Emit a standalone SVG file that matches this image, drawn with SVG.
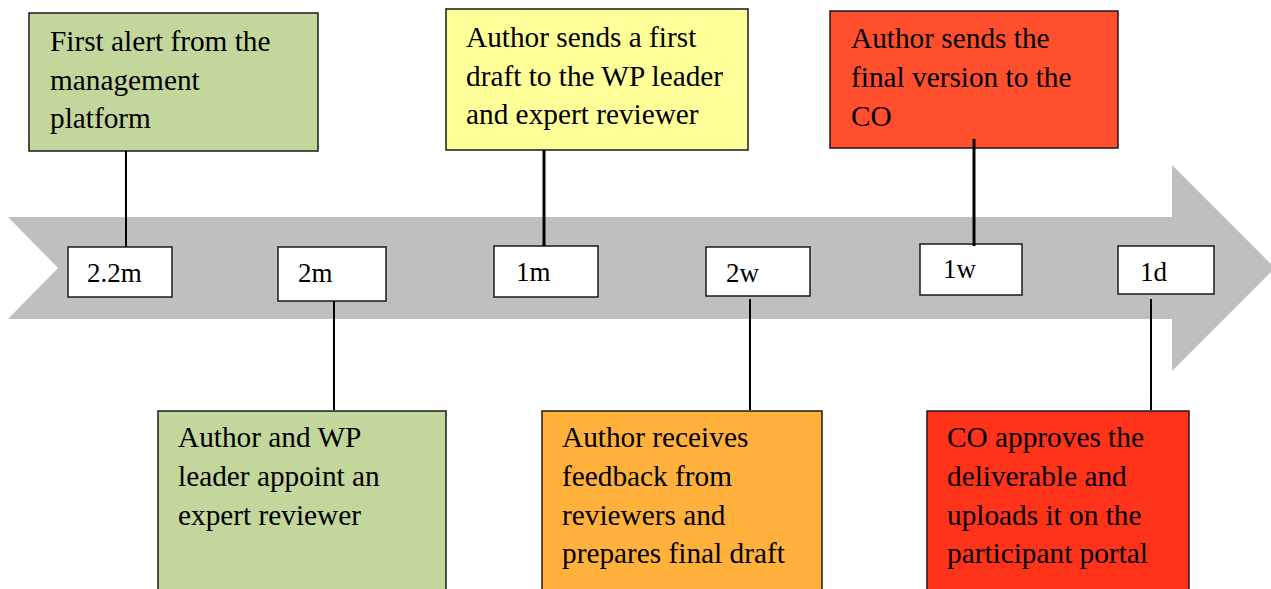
<svg xmlns="http://www.w3.org/2000/svg" width="1271" height="589" viewBox="0 0 1271 589">
<style>
.box{stroke:#1a1a1a;stroke-width:1.5}
.lbl{fill:#fff;stroke:#1a1a1a;stroke-width:1.5}
.t{font-family:"Liberation Serif","Times New Roman",serif;font-size:29.3px;fill:#000}
.s{font-family:"Liberation Serif","Times New Roman",serif;font-size:27px;fill:#000}
.thin{stroke:#000;stroke-width:2}
.thick{stroke:#000;stroke-width:3}
</style>
<rect width="1271" height="589" fill="#fff"/>
<g id="timeline-arrow">
<polygon points="8,217 1172,217 1172,165 1275,268 1172,371 1172,319 8,319 58,268" fill="#bfbfbf"/>
</g>
<g id="node-first-alert">
<rect class="box" x="29" y="13" width="289" height="138" fill="#c3d69b"/>
<text class="t" x="50" y="51">First alert from the</text>
<text class="t" x="50" y="89.5">management</text>
<text class="t" x="50" y="128">platform</text>
</g>
<g id="node-first-draft">
<rect class="box" x="446" y="9" width="302" height="141" fill="#ffff99"/>
<text class="t" x="466" y="47">Author sends a first</text>
<text class="t" x="466" y="85.5">draft to the WP leader</text>
<text class="t" x="466" y="124">and expert reviewer</text>
</g>
<g id="node-final-version">
<rect class="box" x="830" y="11" width="288" height="137" fill="#ff4f2d"/>
<text class="t" x="851" y="48">Author sends the</text>
<text class="t" x="851" y="87">final version to the</text>
<text class="t" x="851" y="125.5">CO</text>
</g>
<g id="node-2-2m">
<rect class="lbl" x="68" y="247" width="104" height="50"/>
<text class="s" x="87" y="282">2.2m</text>
</g>
<g id="node-2m">
<rect class="lbl" x="278" y="247" width="108" height="54"/>
<text class="s" x="298" y="282">2m</text>
</g>
<g id="node-1m">
<rect class="lbl" x="494" y="246" width="104" height="51"/>
<text class="s" x="516" y="281">1m</text>
</g>
<g id="node-2w">
<rect class="lbl" x="706" y="247" width="104" height="49"/>
<text class="s" x="726" y="282">2w</text>
</g>
<g id="node-1w">
<rect class="lbl" x="920" y="244" width="102" height="51"/>
<text class="s" x="943" y="278">1w</text>
</g>
<g id="node-1d">
<rect class="lbl" x="1118" y="246" width="96" height="48"/>
<text class="s" x="1140" y="281">1d</text>
</g>
<g id="node-appoint">
<rect class="box" x="158" y="411" width="288" height="190" fill="#c3d69b"/>
<text class="t" x="178" y="447">Author and WP</text>
<text class="t" x="178" y="486">leader appoint an</text>
<text class="t" x="178" y="525">expert reviewer</text>
</g>
<g id="node-feedback">
<rect class="box" x="542" y="411" width="280" height="190" fill="#ffb13b"/>
<text class="t" x="562" y="447">Author receives</text>
<text class="t" x="562" y="486">feedback from</text>
<text class="t" x="562" y="524.5">reviewers and</text>
<text class="t" x="562" y="563">prepares final draft</text>
</g>
<g id="node-approve">
<rect class="box" x="927" y="411" width="262" height="190" fill="#ff321a"/>
<text class="t" x="947" y="447">CO approves the</text>
<text class="t" x="947" y="486">deliverable and</text>
<text class="t" x="947" y="525">uploads it on the</text>
<text class="t" x="947" y="563">participant portal</text>
</g>
<g id="connectors">
<line class="thin" x1="126" y1="151" x2="126" y2="247"/>
<line class="thick" x1="544" y1="150" x2="544" y2="246"/>
<line class="thick" x1="974" y1="139" x2="974" y2="246"/>
<line class="thin" x1="334" y1="301" x2="334" y2="410"/>
<line class="thin" x1="750" y1="299" x2="750" y2="410"/>
<line class="thin" x1="1151" y1="299" x2="1151" y2="410"/>
</g>
</svg>
